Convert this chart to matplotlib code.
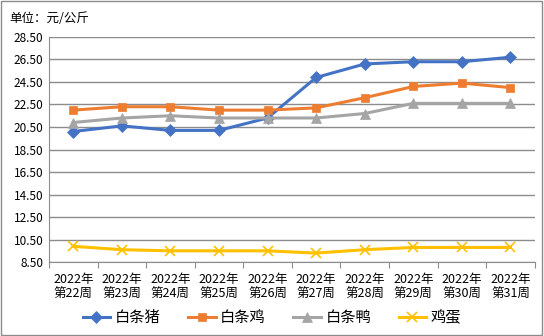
import matplotlib
matplotlib.use('Agg')
from matplotlib import pyplot as plt
from matplotlib.patches import Rectangle
import numpy as np

plt.rcParams['font.family'] = ['Noto Sans CJK SC', 'DejaVu Sans']

weeks = ['2022年\n第%d周' % w for w in range(22, 32)]
pork = [20.1, 20.6, 20.2, 20.2, 21.3, 24.9, 26.1, 26.3, 26.3, 26.7]
chicken = [22.0, 22.3, 22.3, 22.0, 22.0, 22.2, 23.1, 24.1, 24.4, 24.0]
duck = [20.9, 21.3, 21.5, 21.3, 21.3, 21.3, 21.7, 22.6, 22.6, 22.6]
eggs = [9.9, 9.6, 9.5, 9.5, 9.5, 9.3, 9.6, 9.8, 9.8, 9.8]

series = [
    ('白条猪', pork, '#4472C4', 'D', 6),
    ('白条鸡', chicken, '#ED7D31', 's', 6),
    ('白条鸭', duck, '#A5A5A5', '^', 7),
    ('鸡蛋', eggs, '#FFC000', 'x', 7),
]

fig = plt.figure(figsize=(5.44, 3.36), dpi=100)
fig.patches.append(Rectangle((0.002, 0.003), 0.995, 0.993, transform=fig.transFigure,
                             fill=False, edgecolor='#8c8c8c', lw=1))
ax = fig.add_axes([0.090, 0.220, 0.893, 0.670])

x = np.arange(len(weeks))
for name, vals, color, marker, ms in series:
    ax.plot(x, vals, color=color, lw=2.2, marker=marker, markersize=ms,
            markeredgewidth=1.2 if marker == 'x' else 0.5, label=name)

ax.set_ylim(8.5, 28.5)
ax.set_yticks(np.arange(8.5, 28.6, 2))
ax.set_yticklabels(['%.2f' % v for v in np.arange(8.5, 28.6, 2)], fontsize=8.5)
ax.yaxis.grid(True, color='#8c8c8c', lw=1)
ax.set_axisbelow(True)

ax.set_xlim(-0.5, len(weeks) - 0.5)
ax.set_xticks(np.arange(-0.5, len(weeks)))
ax.set_xticklabels([])
ax.set_xticks(x, minor=True)
ax.set_xticklabels(weeks, minor=True, fontsize=9, linespacing=1.15)
ax.tick_params(axis='x', which='major', length=4, color='#8c8c8c')
ax.tick_params(axis='x', which='minor', length=0, pad=8)
ax.tick_params(axis='y', length=0, pad=4)

for side in ['top', 'right']:
    ax.spines[side].set_visible(False)
for side in ['left', 'bottom']:
    ax.spines[side].set_color('#8c8c8c')

fig.text(0.018, 0.945, '单位：元/公斤', fontsize=9, va='center')

fig.legend(loc='center', bbox_to_anchor=(0.5, 0.055), ncol=4, frameon=False,
           fontsize=11, handlelength=1.8, handletextpad=0.3, columnspacing=1.8)

fig.savefig('out.png', dpi=100)
